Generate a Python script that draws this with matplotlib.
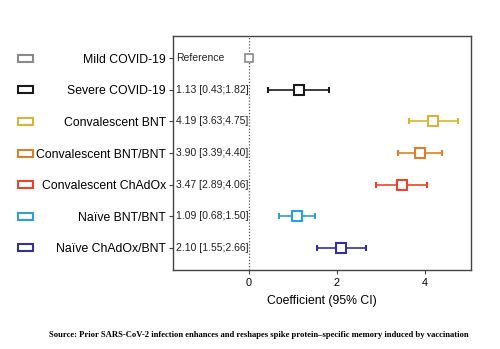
import matplotlib
matplotlib.use("Agg")
import matplotlib.pyplot as plt
from matplotlib.patches import Rectangle
from matplotlib.transforms import blended_transform_factory

categories = ["Mild COVID-19", "Severe COVID-19", "Convalescent BNT", "Convalescent BNT/BNT",
              "Convalescent ChAdOx", "Naïve BNT/BNT", "Naïve ChAdOx/BNT"]
estimates = [0.0, 1.13, 4.19, 3.90, 3.47, 1.09, 2.10]
lower = [None, 0.43, 3.63, 3.39, 2.89, 0.68, 1.55]
upper = [None, 1.82, 4.75, 4.40, 4.06, 1.50, 2.66]
annotations = ["Reference", "1.13 [0.43;1.82]", "4.19 [3.63;4.75]", "3.90 [3.39;4.40]",
               "3.47 [2.89;4.06]", "1.09 [0.68;1.50]", "2.10 [1.55;2.66]"]
colors = ["#8a8a8a", "#1a1a1a", "#d6b43c", "#d9812c", "#e8452c", "#2b9fe0", "#34329a"]
xticks = [0, 2, 4]

plt.rcParams['font.family'] = ['Liberation Sans', 'DejaVu Sans']

fig = plt.figure(figsize=(5, 3.49), dpi=100)
ax = fig.add_axes([0.346, 0.226, 0.596, 0.671])

ax.axvline(0, color="#555555", linestyle=(0, (1, 1.5)), linewidth=0.9, zorder=1)

for i, (est, lo, hi, c) in enumerate(zip(estimates, lower, upper, colors)):
    if lo is not None:
        ax.errorbar(est, i, xerr=[[est - lo], [hi - est]], fmt='s', color=c,
                    mfc='white', mec=c, ms=6.5, mew=1.5, elinewidth=1.2,
                    capsize=2.2, capthick=1.2, zorder=3)
    else:
        ax.plot(est, i, 's', mfc='white', mec=c, ms=6.0, mew=1.2, zorder=3)
    ax.text(-1.66, i, annotations[i], va='center', ha='left', fontsize=7.5, color="#222222")

ax.set_xlim(-1.73, 5.05)
ax.set_ylim(6.7, -0.7)
ax.set_yticks(range(len(categories)))
ax.set_yticklabels(categories, fontsize=8.8)
ax.set_xticks(xticks)
ax.set_xticklabels([str(t) for t in xticks], fontsize=7.8)
ax.tick_params(axis='both', direction='out', length=3, width=0.8, color="#444444")
ax.tick_params(axis='y', pad=2)
ax.tick_params(axis='x', pad=3)
for s in ax.spines.values():
    s.set_color("#444444")
    s.set_linewidth(1.0)
ax.set_xlabel("Coefficient (95% CI)", fontsize=8.8, labelpad=5)

trans = blended_transform_factory(fig.transFigure, ax.transData)
for i, c in enumerate(colors):
    r = Rectangle((0.036, i - 0.11), 0.03, 0.22, transform=trans, fill=False,
                  edgecolor=c, linewidth=1.5, clip_on=False)
    fig.patches.append(r)

fig.text(0.518, 0.04, "Source: Prior SARS-CoV-2 infection enhances and reshapes spike protein\u2013specific memory induced by vaccination",
         ha='center', va='center', fontsize=6.25, fontweight='bold', family='Liberation Serif')

fig.savefig("out.png", dpi=100)
